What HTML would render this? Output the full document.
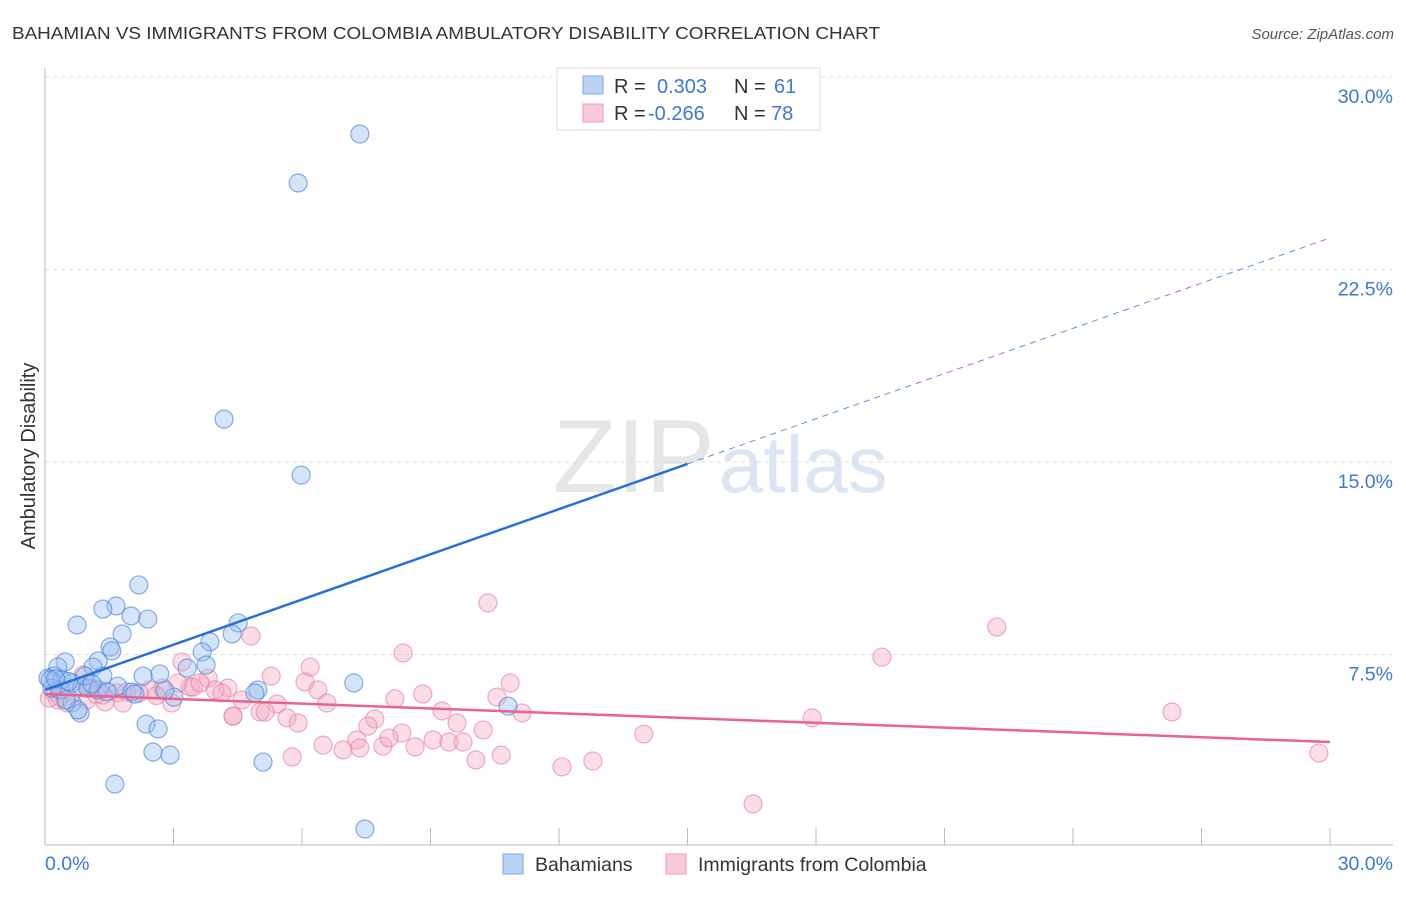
<!DOCTYPE html>
<html><head><meta charset="utf-8"><style>
body{margin:0;background:#fff;font-family:"Liberation Sans",sans-serif;}
svg text{font-family:"Liberation Sans",sans-serif;}
</style></head><body>
<svg id="chart" width="1406" height="892" xmlns="http://www.w3.org/2000/svg">
<text x="12" y="39" font-size="17.5" fill="#333" textLength="868" lengthAdjust="spacingAndGlyphs">BAHAMIAN VS IMMIGRANTS FROM COLOMBIA AMBULATORY DISABILITY CORRELATION CHART</text>
<text x="1394" y="39" font-size="15" fill="#555" text-anchor="end" font-style="italic">Source: ZipAtlas.com</text>
<text x="553" y="492" font-size="104" fill="#e6e6e6" font-family="Liberation Serif, serif">ZIP<tspan fill="#dbe6f5" font-family="Liberation Sans, sans-serif" font-size="80" dx="4">atlas</tspan></text>
<g id="grid"></g>
<g id="axes"></g>
<g id="pts"></g>
<g id="trend"></g>
<text transform="translate(35,456) rotate(-90)" font-size="20" fill="#333" text-anchor="middle">Ambulatory Disability</text>
<text x="45" y="870" font-size="19.5" fill="#3b78d8">0.0%</text>
<text x="1393" y="870" font-size="19.5" fill="#3b78d8" text-anchor="end">30.0%</text>
<g>
<rect x="557" y="68" width="263" height="62" fill="#fff" stroke="#ddd"/>
<rect x="583" y="76" width="20" height="18" fill="#b9d2f4" stroke="#7ea8e6"/>
<rect x="583" y="104" width="20" height="18" fill="#fbcad8" stroke="#f09ab4"/>
<text x="614" y="93" font-size="20" fill="#333">R =</text>
<text x="657" y="93" font-size="20" fill="#3b78d8">0.303</text>
<text x="734" y="93" font-size="20" fill="#333">N =</text>
<text x="774" y="93" font-size="20" fill="#3b78d8">61</text>
<text x="614" y="120" font-size="20" fill="#333">R =</text>
<text x="648" y="120" font-size="20" fill="#3b78d8">-0.266</text>
<text x="734" y="120" font-size="20" fill="#333">N =</text>
<text x="771" y="120" font-size="20" fill="#3b78d8">78</text>
</g>
<g>
<rect x="503" y="854" width="20" height="20" fill="#b9d2f4" stroke="#7ea8e6"/>
<text x="535" y="871" font-size="19.5" fill="#333">Bahamians</text>
<rect x="666" y="854" width="20" height="20" fill="#fbcad8" stroke="#f09ab4"/>
<text x="698" y="871" font-size="19.5" fill="#333">Immigrants from Colombia</text>
</g>
</svg>
<script>
const yTicks=[30,22.5,15,7.5];
const yTickLabels=["30.0%","22.5%","15.0%","7.5%"];
const blueX=[7.35,5.91,4.18,5.98,2.19,1.66,1.35,2.01,2.40,0.75,1.80,4.51,3.85,4.37,1.52,1.56,3.67,3.76,1.24,0.47,0.30,1.12,2.68,2.29,3.32,1.35,0.21,0.07,0.40,0.63,0.86,1.00,1.24,1.70,2.03,3.01,4.97,4.90,7.21,10.81,0.63,0.82,0.77,2.36,2.64,2.52,2.92,5.09,1.63,7.47,0.16,0.35,0.49,0.12,0.93,2.10,1.10,0.55,0.25,1.45,2.80];
const blueY=[27.78,25.87,16.67,14.49,10.21,9.39,9.27,9.00,8.88,8.65,8.30,8.73,7.99,8.30,7.79,7.64,7.60,7.09,7.25,7.21,7.01,7.01,6.74,6.66,6.97,6.66,6.66,6.58,6.51,6.39,6.23,6.19,6.12,6.27,6.04,5.84,6.12,6.00,6.39,5.49,5.61,5.22,5.34,4.79,4.60,3.70,3.58,3.31,2.45,0.70,6.19,6.12,5.73,6.51,6.66,5.96,6.35,6.45,6.55,6.05,6.10];
const pinkX=[10.34,8.36,4.81,3.20,6.19,5.28,6.07,6.37,6.58,3.81,4.27,3.39,3.97,4.13,4.60,5.42,4.39,5.02,5.14,5.65,5.91,8.17,8.82,10.86,10.55,11.14,9.27,9.62,10.23,7.70,7.54,8.33,6.49,6.96,7.28,7.35,7.89,8.03,8.64,9.06,9.43,9.76,10.06,10.65,5.77,12.07,12.79,13.98,16.53,17.91,19.54,22.22,26.31,29.74,0.89,0.19,0.35,0.65,1.05,1.35,1.68,1.91,2.45,1.40,1.82,2.75,2.96,3.10,3.46,3.62,0.30,0.51,0.98,4.39,0.10,2.20,2.60,1.20];
const pinkY=[9.51,7.56,8.22,7.21,7.01,6.66,6.43,6.12,5.61,6.58,6.19,6.23,6.12,6.00,5.73,5.57,5.10,5.26,5.26,5.03,4.83,5.77,5.96,6.39,5.84,5.22,5.30,4.83,4.56,4.99,4.71,4.44,3.97,3.78,4.17,3.86,3.93,4.25,3.90,4.17,4.09,4.09,3.39,3.58,3.51,3.12,3.35,4.40,1.68,5.03,7.40,8.57,5.26,3.66,6.70,6.04,5.84,6.04,6.19,5.92,6.00,6.04,6.12,5.65,5.61,6.19,5.61,6.39,6.23,6.39,5.73,5.61,5.73,5.10,5.80,6.00,5.90,5.95];
const blueTrend=[6.12,23.73];
const pinkTrend=[5.96,4.09];
const NS="http://www.w3.org/2000/svg";
const X0=45,X1=1330,Y0=847,PXY=192.5/7.5;
function sx(v){return X0+(X1-X0)*v/30;}
function sy(v){return Y0-v*PXY;}
function mk(t,a,p){const e=document.createElementNS(NS,t);for(const k in a)e.setAttribute(k,a[k]);p.appendChild(e);return e;}
const grid=document.getElementById('grid');
yTicks.forEach((t,i)=>{
 const l=mk('line',{x1:X0,x2:1393,y1:sy(t),y2:sy(t),stroke:'#ddd','stroke-dasharray':'4,4'},grid);
 
 
 const tx=mk('text',{x:1393,y:sy(t)+26,'font-size':19.5,fill:'#3b78d8','text-anchor':'end'},grid);
 tx.textContent=yTickLabels[i];
 
 
});
const axes=document.getElementById('axes');
const ya=mk('line',{x1:X0,x2:X0,y1:68,y2:845,stroke:'#bbb'},axes);


const xa=mk('line',{x1:X0,x2:1393,y1:845,y2:845,stroke:'#bbb'},axes);


for(let k=1;k<=10;k++){const x=X0+k*128.5;const t=mk('line',{x1:x,x2:x,y1:828,y2:845,stroke:'#bbb'},axes);
 
 }
const pts=document.getElementById('pts');
pinkX.forEach((v,i)=>{const c=mk('circle',{cx:sx(v),cy:sy(pinkY[i]),r:9,fill:'rgba(246,170,195,0.4)',stroke:'rgba(232,120,155,0.6)','stroke-width':1.2},pts);
 
 });
blueX.forEach((v,i)=>{const c=mk('circle',{cx:sx(v),cy:sy(blueY[i]),r:9,fill:'rgba(150,190,240,0.4)',stroke:'rgba(70,130,220,0.65)','stroke-width':1.2},pts);
 
 });
const tr=document.getElementById('trend');
const bAt=x=>blueTrend[0]+(blueTrend[1]-blueTrend[0])*x/30;
const b1=mk('line',{x1:sx(0),y1:sy(bAt(0)),x2:sx(15),y2:sy(bAt(15)),stroke:'#2a6fd6','stroke-width':2.5},tr);


const b2=mk('line',{x1:sx(15),y1:sy(bAt(15)),x2:sx(30),y2:sy(bAt(30)),stroke:'#5a90dd','stroke-width':1,'stroke-dasharray':'6,5'},tr);


const p1=mk('line',{x1:sx(0),y1:sy(pinkTrend[0]),x2:sx(30),y2:sy(pinkTrend[1]),stroke:'#e8638e','stroke-width':2.5},tr);


</script>
</body></html>
